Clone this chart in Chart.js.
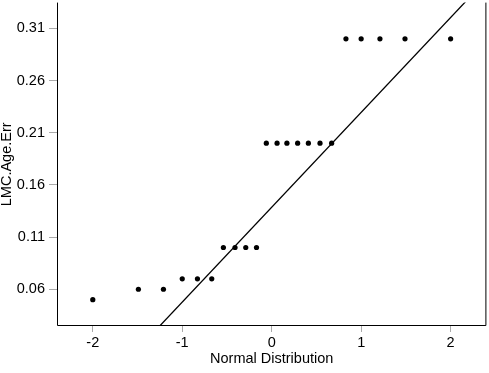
<!DOCTYPE html>
<html>
<head>
<meta charset="utf-8">
<script src="https://cdn.jsdelivr.net/npm/chart.js@4/dist/chart.umd.min.js"></script>
<style>
  html, body { margin: 0; padding: 0; background: #fff; }
  #wrap { width: 489px; height: 373px; }
</style>
</head>
<body>
<div id="wrap"><canvas id="qqChart" width="489" height="373"></canvas></div>
<script>
// theoretical normal quantiles (x) and sample values (y)
const quantiles = [-2.00, -1.49, -1.21, -1.00, -0.83, -0.67, -0.54, -0.41, -0.29, -0.17, -0.06,
  0.06, 0.17, 0.29, 0.41, 0.54, 0.67, 0.83, 1.00, 1.21, 1.49, 2.00];
const ageErr = [0.05, 0.06, 0.06, 0.07, 0.07, 0.07, 0.10, 0.10, 0.10, 0.10, 0.20,
  0.20, 0.20, 0.20, 0.20, 0.20, 0.20, 0.30, 0.30, 0.30, 0.30, 0.30];
// reference line: intercept and slope
const lineIntercept = 0.1386;
const lineSlope = 0.0909;
const xTicks = [-2, -1, 0, 1, 2];
const yTicks = [0.06, 0.11, 0.16, 0.21, 0.26, 0.31];
const xRange = [-2.4, 2.4];
const yRange = [0.0248, 0.3347];

document.addEventListener("DOMContentLoaded", () => {
  const ctx = document.getElementById("qqChart").getContext("2d");
  const font = "'Liberation Sans', Arial, sans-serif";

  const points = quantiles.map((q, i) => ({ x: q, y: ageErr[i] }));
  const linePts = xRange.map((x) => ({ x: x, y: lineIntercept + lineSlope * x }));

  // draw left, bottom and right edges of the plot box
  const boxPlugin = {
    id: "box",
    afterDraw(chart) {
      const a = chart.chartArea;
      const c = chart.ctx;
      c.save();
      c.strokeStyle = "#000";
      c.lineWidth = 1;
      c.beginPath();
      c.moveTo(a.left + 0.5, a.top);
      c.lineTo(a.left + 0.5, a.bottom - 0.5);
      c.lineTo(a.right - 0.5, a.bottom - 0.5);
      c.lineTo(a.right - 0.5, a.top);
      c.stroke();
      c.restore();
    },
  };

  new Chart(ctx, {
    type: "scatter",
    data: {
      datasets: [
        {
          data: points,
          backgroundColor: "#000",
          borderWidth: 0,
          pointRadius: 2.6,
          pointHoverRadius: 2.6,
        },
        {
          type: "line",
          data: linePts,
          borderColor: "#000",
          borderWidth: 1.3,
          pointRadius: 0,
          fill: false,
        },
      ],
    },
    plugins: [boxPlugin],
    options: {
      responsive: false,
      animation: false,
      events: [],
      layout: { padding: { top: 0, right: 1, bottom: 0, left: 0 } },
      plugins: { legend: { display: false }, tooltip: { enabled: false } },
      scales: {
        x: {
          type: "linear",
          min: xRange[0],
          max: xRange[1],
          afterBuildTicks: (s) => { s.ticks = xTicks.map((v) => ({ value: v })); },
          afterFit: (s) => { s.height = 47; s.paddingLeft = 0; s.paddingRight = 0; },
          grid: { drawOnChartArea: false, tickLength: 6, color: "#aaa" },
          border: { display: false },
          ticks: {
            color: "#000",
            padding: 2,
            font: { family: font, size: 14.5 },
            callback: (v) => String(v),
          },
          title: {
            display: true,
            text: "Normal Distribution",
            color: "#000",
            font: { family: font, size: 14.5, lineHeight: 1 },
            padding: { top: 0, bottom: 6.5 },
          },
        },
        y: {
          type: "linear",
          min: yRange[0],
          max: yRange[1],
          afterBuildTicks: (s) => { s.ticks = yTicks.map((v) => ({ value: v })); },
          afterFit: (s) => { s.width = 57; s.paddingTop = 0; s.paddingBottom = 0; },
          grid: { drawOnChartArea: false, tickLength: 8, color: "#aaa" },
          border: { display: false },
          ticks: {
            color: "#000",
            padding: 4,
            font: { family: font, size: 14.5 },
            callback: (v) => v.toFixed(2),
          },
          title: {
            display: true,
            text: "LMC.Age.Err",
            color: "#000",
            font: { family: font, size: 14.5, lineHeight: 1 },
            padding: { top: 0, bottom: 0 },
          },
        },
      },
    },
  });
});
</script>
</body>
</html>
